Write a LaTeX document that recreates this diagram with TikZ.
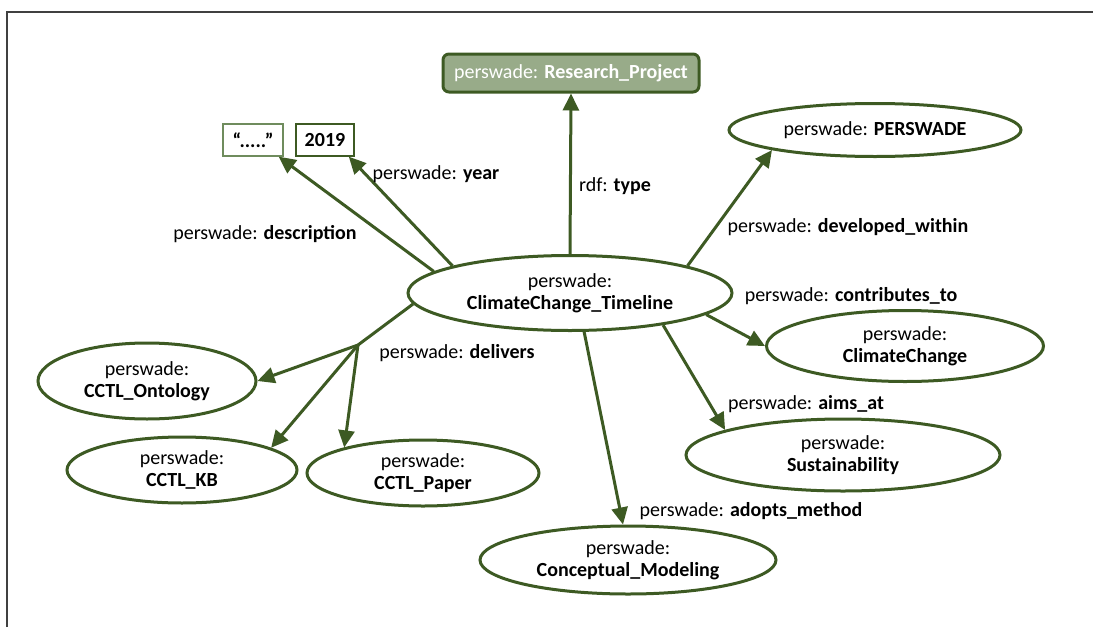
\documentclass[tikz,border=0pt]{standalone}
\usepackage{fontspec}
\setmainfont{Carlito}
\usetikzlibrary{arrows.meta,shapes.geometric}
\definecolor{dkgreen}{HTML}{3D5A23}
\definecolor{ltgreen}{HTML}{98AB89}
\definecolor{litgreen}{HTML}{6F8C5D}
\definecolor{framegray}{HTML}{404040}
\begin{document}
\begin{tikzpicture}[
  x=1pt, y=-1pt,
  font=\fontsize{20}{22}\selectfont,
  res/.style={ellipse, draw=dkgreen, line width=3pt, inner sep=0pt, align=center, fill=white},
  lit/.style={draw=dkgreen, line width=1.3pt, inner sep=0pt, minimum height=32pt, font=\fontsize{20}{22}\selectfont\bfseries},
  cls/.style={draw=dkgreen, line width=3pt, fill=ltgreen, rounded corners=6pt, minimum width=256pt, minimum height=38pt, text=white},
  lbl/.style={inner sep=1pt},
  arrow/.style={draw=dkgreen, line width=3pt, -{Triangle[length=17pt,width=16pt]}}
]
\useasboundingbox (0,0) rectangle (1093,627);
\draw[framegray, line width=2pt] (7,627) -- (7,12) -- (1093,12);

\node[cls] (proj) at (571,73) {perswade: \textbf{Research\_Project}};
\node[lit, draw=litgreen, minimum width=60pt] (descr) at (253,140) {“.....”};
\node[lit, minimum width=58pt] (yr) at (325,140) {2019};
\node[res, minimum width=292pt, minimum height=53pt] (pers) at (875,130) {perswade: \textbf{PERSWADE}};
\node[res, minimum width=324pt, minimum height=75pt] (cctl) at (570,293)
  {perswade:\\\textbf{ClimateChange\_Timeline}};
\node[res, minimum width=277pt, minimum height=71pt] (cc) at (905,346)
  {perswade:\\\textbf{ClimateChange}};
\node[res, minimum width=314pt, minimum height=72pt] (sust) at (843,455)
  {perswade:\\\textbf{Sustainability}};
\node[res, minimum width=296pt, minimum height=68pt] (cmod) at (628,560)
  {perswade:\\\textbf{Conceptual\_Modeling}};
\node[res, minimum width=218pt, minimum height=76pt] (onto) at (147,381)
  {perswade:\\\textbf{CCTL\_Ontology}};
\node[res, minimum width=230pt, minimum height=66pt] (kb) at (182,470)
  {perswade:\\\textbf{CCTL\_KB}};
\node[res, minimum width=232pt, minimum height=66pt] (paper) at (423,473)
  {perswade:\\\textbf{CCTL\_Paper}};
\coordinate (dlv) at (358,345);

\draw[arrow] (cctl.north) -- (proj.south);
\draw[arrow] (cctl.167) -- (yr.-35);
\draw[arrow] (cctl.171) -- (descr.-33);
\draw[arrow] (cctl.13) -- (pers.191);
\draw[arrow] (cctl.-9.3) -- (cc.west);
\draw[arrow] (cctl.-19) -- (sust.168);
\draw[arrow] (cctl.-70) -- (cmod.98);
\draw[draw=dkgreen, line width=3pt] (cctl.184.6) -- (dlv);
\draw[arrow] (dlv) -- (onto.east);
\draw[arrow] (dlv) -- (kb.14);
\draw[arrow] (dlv) -- (paper.162);

\node[lbl] (ltype) at (615,186) {rdf: \textbf{type}};
\node[lbl] (lyear) at (436,174) {perswade: \textbf{year}};
\node[lbl] (ldesc) at (265,234) {perswade: \textbf{description}};
\node[lbl] (ldev) at (848,227) {perswade: \textbf{developed\_within}};
\node[lbl] (lcontr) at (851,296) {perswade: \textbf{contributes\_to}};
\node[lbl] (laims) at (806,404) {perswade: \textbf{aims\_at}};
\node[lbl] (ladopt) at (751,511) {perswade: \textbf{adopts\_method}};
\node[lbl] (ldeliv) at (457,353) {perswade: \textbf{delivers}};
\end{tikzpicture}
\end{document}
